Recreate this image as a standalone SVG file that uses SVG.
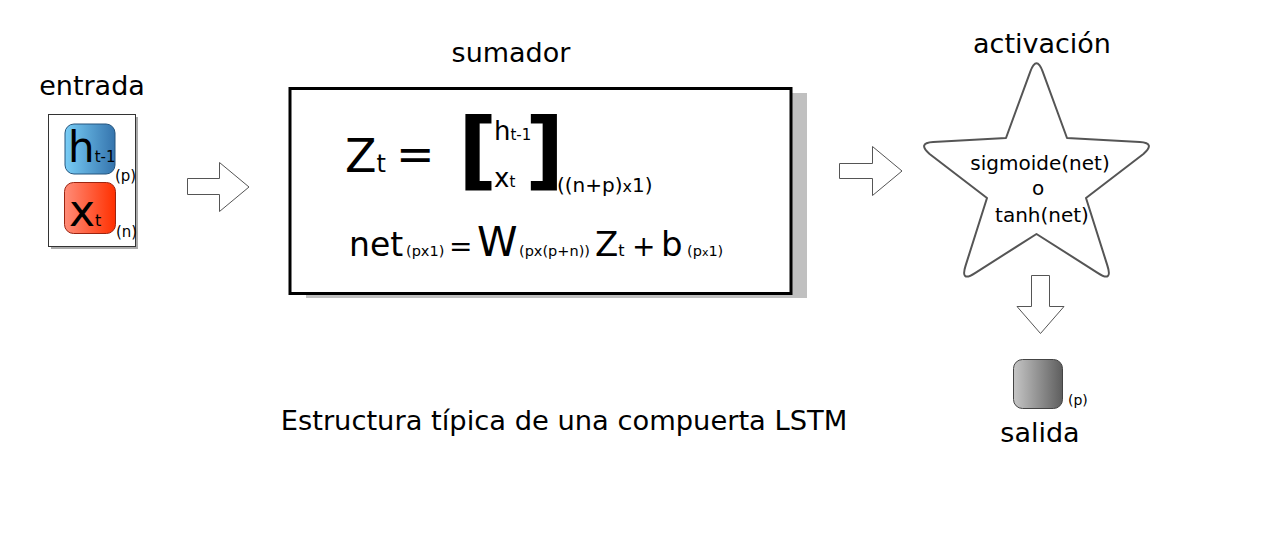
<svg xmlns="http://www.w3.org/2000/svg" width="1266" height="550" viewBox="0 0 1266 550">
<defs>
<linearGradient id="gBlue" x1="0" y1="0" x2="1" y2="0"><stop offset="0" stop-color="#78cdf6"/><stop offset="1" stop-color="#3574ad"/></linearGradient>
<linearGradient id="gRed" x1="0" y1="0" x2="1" y2="0"><stop offset="0" stop-color="#ff8c78"/><stop offset="1" stop-color="#ff3000"/></linearGradient>
<linearGradient id="gGray" x1="0" y1="0" x2="1" y2="0"><stop offset="0" stop-color="#c6c6c6"/><stop offset="1" stop-color="#5e5e5e"/></linearGradient>
</defs>
<style>
text{font-family:"DejaVu Sans","Liberation Sans",sans-serif;fill:#000}
.title{font-size:27px;text-anchor:middle}
.blk{fill:#fff;stroke:#555;stroke-width:1}
.sub{font-size:14.5px}
.star{font-size:20px;text-anchor:middle}
</style>
<rect width="1266" height="550" fill="#fff"/>

<g id="entrada">
<text class="title" x="92" y="95">entrada</text>
<rect x="51" y="117" width="87" height="132" fill="#aaa"/>
<rect x="48.5" y="114.5" width="87" height="132" fill="#fff" stroke="#333" stroke-width="1"/>
<rect x="65" y="124" width="50" height="50" rx="9" fill="url(#gBlue)" stroke="#24557e" stroke-width="1"/>
<text x="68" y="162" font-size="42">h<tspan font-size="15">t-1</tspan></text>
<rect x="64.5" y="182.5" width="51" height="51" rx="9" fill="url(#gRed)" stroke="#9c2410" stroke-width="1"/>
<text x="69" y="226" font-size="44">x<tspan font-size="16">t</tspan></text>
<text x="115" y="181" font-size="15">(p)</text>
<text x="116" y="237" font-size="15">(n)</text>
</g>

<g id="sumador">
<text class="title" x="511" y="62">sumador</text>
<rect x="306" y="93" width="501" height="205" fill="#c0c0c0"/>
<rect x="290" y="88.5" width="501" height="205" fill="#fff" stroke="#000" stroke-width="3"/>
<text x="345" y="172" font-size="46">Z<tspan font-size="24">t</tspan></text>
<text x="396" y="170" font-size="46">=</text>
<text x="458" y="179" font-size="86" font-weight="bold">[</text>
<text x="525" y="179" font-size="86" font-weight="bold">]</text>
<text x="494" y="140" font-size="26">h<tspan font-size="15">t-1</tspan></text>
<text x="494" y="187" font-size="26">x<tspan font-size="15">t</tspan></text>
<text x="557" y="192" font-size="20">((n+p)<tspan font-size="16">x</tspan>1)</text>
<text x="349" y="256" font-size="33">net</text>
<text class="sub" x="406" y="256">(px1)</text>
<text x="449" y="256" font-size="28">=</text>
<text x="477" y="256" font-size="41">W</text>
<text class="sub" x="519" y="256">(px(p+n))</text>
<text x="595" y="256" font-size="34">Z<tspan font-size="16">t</tspan></text>
<text x="632" y="256" font-size="28">+</text>
<text x="661" y="256" font-size="34">b</text>
<text class="sub" x="687" y="256">(p<tspan font-size="11">x</tspan>1)</text>
</g>

<g id="activacion">
<text class="title" x="1042" y="53">activación</text>
<path d="M1030.3,71.6 Q1036.5,55 1042.7,71.6 L1067,138 L1139.8,142 Q1156,143 1143.4,154 L1086,198 L1107.4,265.6 Q1113,283 1097.6,272.8 L1036.5,234 L975.4,272.8 Q960,283 965.6,265.6 L987,198 L929.6,154 Q917,143 933.2,142 L1006,138 Z" fill="#fff" stroke="#555" stroke-width="2" stroke-linejoin="round"/>
<text class="star" x="1040" y="170" font-size="21">sigmoide(net)</text>
<text class="star" x="1038" y="195">o</text>
<text class="star" x="1042" y="222">tanh(net)</text>
</g>

<g id="salida">
<rect x="1013.5" y="359.5" width="49" height="49" rx="9" fill="url(#gGray)" stroke="#444" stroke-width="1"/>
<text x="1068" y="405" font-size="14">(p)</text>
<text class="title" x="1040" y="442">salida</text>
</g>

<g id="connectors">
<path class="blk" d="M187.5,178.5 H219.5 V162.5 L249,187 L219.5,211.5 V194.5 H187.5 Z"/>
<path class="blk" d="M839.5,163.5 H872.5 V146.5 L902,171 L872.5,195.5 V178.5 H839.5 Z"/>
<path class="blk" d="M1031.5,275.5 V306.5 H1017 L1040.5,333.5 L1064,306.5 H1049.5 V275.5 Z"/>
</g>

<text x="564" y="430" font-size="27.3" text-anchor="middle">Estructura típica de una compuerta LSTM</text>
</svg>
